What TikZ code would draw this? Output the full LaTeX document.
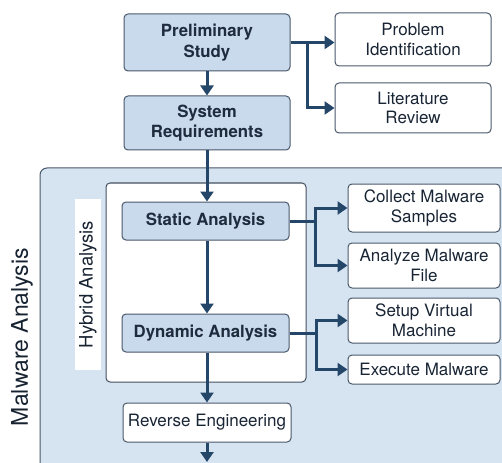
\documentclass[tikz,border=0pt]{standalone}
\usepackage{fontspec}
\setmainfont{TeX Gyre Heros}
\usepackage{tikz}
\usetikzlibrary{arrows.meta,positioning,calc}
\usepackage{xcolor}
\definecolor{regioncol}{RGB}{214,228,242}
\definecolor{boxcol}{RGB}{200,218,236}
\definecolor{edgecol}{RGB}{74,88,106}
\definecolor{flowcol}{RGB}{36,70,105}
\definecolor{txtcol}{RGB}{30,44,62}
\tikzset{
  % process step (shaded, bold)
  pbox/.style={rectangle, rounded corners=4pt, draw=edgecol, line width=1pt, fill=boxcol,
               minimum width=166pt, align=center, text=txtcol, inner sep=2pt,
               font=\fontsize{16.8}{20.5}\selectfont\bfseries},
  % outcome / task box (white)
  obox/.style={rectangle, rounded corners=4pt, draw=edgecol, line width=1pt, fill=white,
               minimum width=152pt, align=center, text=txtcol!85!black, inner sep=2pt,
               font=\fontsize{17}{19.5}\selectfont},
  % flow arrow
  flow/.style={-{Triangle[length=10pt,width=13pt]}, line width=3pt, draw=flowcol},
  % branch stub without tip
  stub/.style={line width=3pt, draw=flowcol},
  % grouping frames
  region/.style={rounded corners=7pt, draw=edgecol, line width=1pt, fill=regioncol},
  group/.style={rounded corners=4pt, draw=edgecol!90!black, line width=1pt, fill=white},
  % rotated side captions
  sidelabel/.style={rotate=90, text=txtcol!80!black, inner sep=0pt},
}
\begin{document}
\begin{tikzpicture}[x=1pt,y=-1pt]
  \useasboundingbox (0,0) rectangle (502,462);
  \clip (0,0) rectangle (502,462);

  % malware analysis frame
  \draw[region] (40,168) rectangle (540,500);
  \node[sidelabel, font=\fontsize{23}{26}\selectfont] (malabel) at (22,337) {Malware Analysis};

  % hybrid analysis frame
  \draw[group] (106,183) rectangle (306,382);
  \node[sidelabel, fill=white, minimum width=171pt, minimum height=26pt,
        font=\fontsize{18.5}{21}\selectfont] (hyblabel) at (88,284.5) {Hybrid Analysis};

  % steps
  \node[pbox, minimum height=57pt] (prelim) at (207,42.5) {Preliminary\\Study};
  \node[pbox, minimum height=54pt] (sysreq) at (207,123) {System\\Requirements};
  \node[pbox, minimum width=167pt, minimum height=38pt] (static) at (205.5,221) {Static Analysis};
  \node[pbox, minimum width=167pt, minimum height=38pt] (dynamic) at (205.5,333) {Dynamic Analysis};
  \node[obox, minimum width=168pt, minimum height=39pt] (reverse) at (207,422.5) {Reverse Engineering};
  \coordinate (next) at (207,462);

  % outcomes
  \node[obox, minimum width=156pt, minimum height=53pt] (probid) at (413,39.5) {Problem\\Identification};
  \node[obox, minimum width=156pt, minimum height=50pt] (litrev) at (413,108) {Literature\\Review};
  \node[obox, minimum height=48pt] (collect) at (424,208) {Collect Malware\\Samples};
  \node[obox, minimum height=45pt] (analyze) at (424,265.5) {Analyze Malware\\File};
  \node[obox, minimum height=45pt] (setup) at (424,320.5) {Setup Virtual\\Machine};
  \node[obox, minimum height=29pt] (execute) at (424,369.5) {Execute Malware};

  % main flow
  \draw[flow] (prelim) -- (sysreq);
  \draw[flow] (sysreq) -- (static.north -| sysreq.south);
  \draw[flow] (static.south -| sysreq.south) -- (dynamic.north -| sysreq.south);
  \draw[flow] (dynamic.south -| reverse.north) -- (reverse);
  \draw[flow] (reverse) -- (next);

  % branches
  \draw[flow] (prelim.east) -- (prelim.east -| probid.west);
  \draw[flow] ($(prelim.east)+(17,0)$) |- (litrev.west);
  \draw[stub] (static.east) -- ++(26,0) coordinate (sbr);
  \draw[flow] (sbr) |- (collect.west);
  \draw[flow] (sbr) |- (analyze.west);
  \draw[stub] (dynamic.east) -- ++(27,0) coordinate (dbr);
  \draw[flow] (dbr) |- (setup.west);
  \draw[flow] (dbr) |- (execute.west);
\end{tikzpicture}
\end{document}
